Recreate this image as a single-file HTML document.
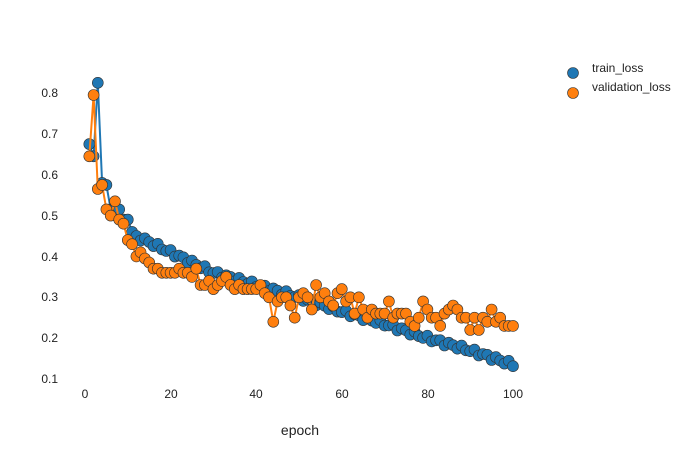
<!DOCTYPE html>
<html><head><meta charset="utf-8"><style>
body{margin:0;background:#fff;font-family:"Liberation Sans",Arial,sans-serif}
svg text{font-family:"Liberation Sans",Arial,sans-serif;fill:#222}
</style></head><body>
<svg id="s" width="700" height="450" xmlns="http://www.w3.org/2000/svg">
<g font-size="12" text-anchor="end">
<text x="58" y="97">0.8</text><text x="58" y="138">0.7</text><text x="58" y="179">0.6</text>
<text x="58" y="220">0.5</text><text x="58" y="261">0.4</text><text x="58" y="301">0.3</text>
<text x="58" y="342">0.2</text><text x="58" y="383">0.1</text>
</g>
<g font-size="12" text-anchor="middle">
<text x="85" y="398">0</text><text x="171" y="398">20</text><text x="256" y="398">40</text>
<text x="342" y="398">60</text><text x="428" y="398">80</text><text x="513" y="398">100</text>
</g>
<text x="300" y="435" font-size="14" text-anchor="middle">epoch</text>
<circle cx="573" cy="73" r="5.5" fill="#1f77b4" stroke="#333" stroke-width="0.6"/>
<text x="592" y="72" font-size="12">train_loss</text>
<circle cx="573" cy="93" r="5.5" fill="#ff7f0e" stroke="#333" stroke-width="0.6"/>
<text x="592" y="91" font-size="12">validation_loss</text>
<g id="g"></g>
</svg>
<script>
var X=e=>85+e*4.28, Y=v=>379-(v-0.1)*408.6;
var t=[.675,.645,.825,.58,.575,.515,.52,.515,.49,.49,.46,.45];
var an=[[12,.45],[22,.40],[30,.36],[40,.33],[50,.30],[60,.265],[70,.235],[80,.20],[90,.17],[100,.135]];
for(var e=13;e<=100;e++){for(var i=0;i<an.length-1;i++)if(e<=an[i+1][0]){var a=an[i],b=an[i+1];var v=a[1]+(b[1]-a[1])*(e-a[0])/(b[0]-a[0]);v+=0.006*Math.sin(e*2.3);t.push(v);break;}}
var va=[.645,.795,.565,.575,.515,.50,.535,.49,.48,.44,.43,.40,.41,.395,.385,.37,.37,.36,.36,.36,.36,.37,.36,.36,.35,.37,.33,.33,.34,.32,.33,.34,.35,.33,.32,.33,.32,.32,.32,.32,.33,.31,.30,.24,.29,.30,.30,.28,.25,.30,.31,.30,.27,.33,.30,.31,.29,.28,.31,.32,.29,.30,.26,.30,.27,.25,.27,.26,.26,.26,.29,.25,.26,.26,.26,.24,.23,.25,.29,.27,.25,.25,.23,.26,.27,.28,.27,.25,.25,.22,.25,.22,.25,.24,.27,.24,.25,.23,.23,.23];
var h='';
function ser(d,c){var p=d.map((v,i)=>X(i+1).toFixed(1)+','+Y(v).toFixed(1)).join(' ');
h+='<polyline points="'+p+'" fill="none" stroke="'+c+'" stroke-width="2"/>';
d.forEach((v,i)=>{h+='<circle cx="'+X(i+1).toFixed(1)+'" cy="'+Y(v).toFixed(1)+'" r="5.5" fill="'+c+'" stroke="#333" stroke-width="0.6"/>';});}
ser(t,'#1f77b4');ser(va,'#ff7f0e');
document.getElementById('g').innerHTML=h;
</script>
</body></html>
